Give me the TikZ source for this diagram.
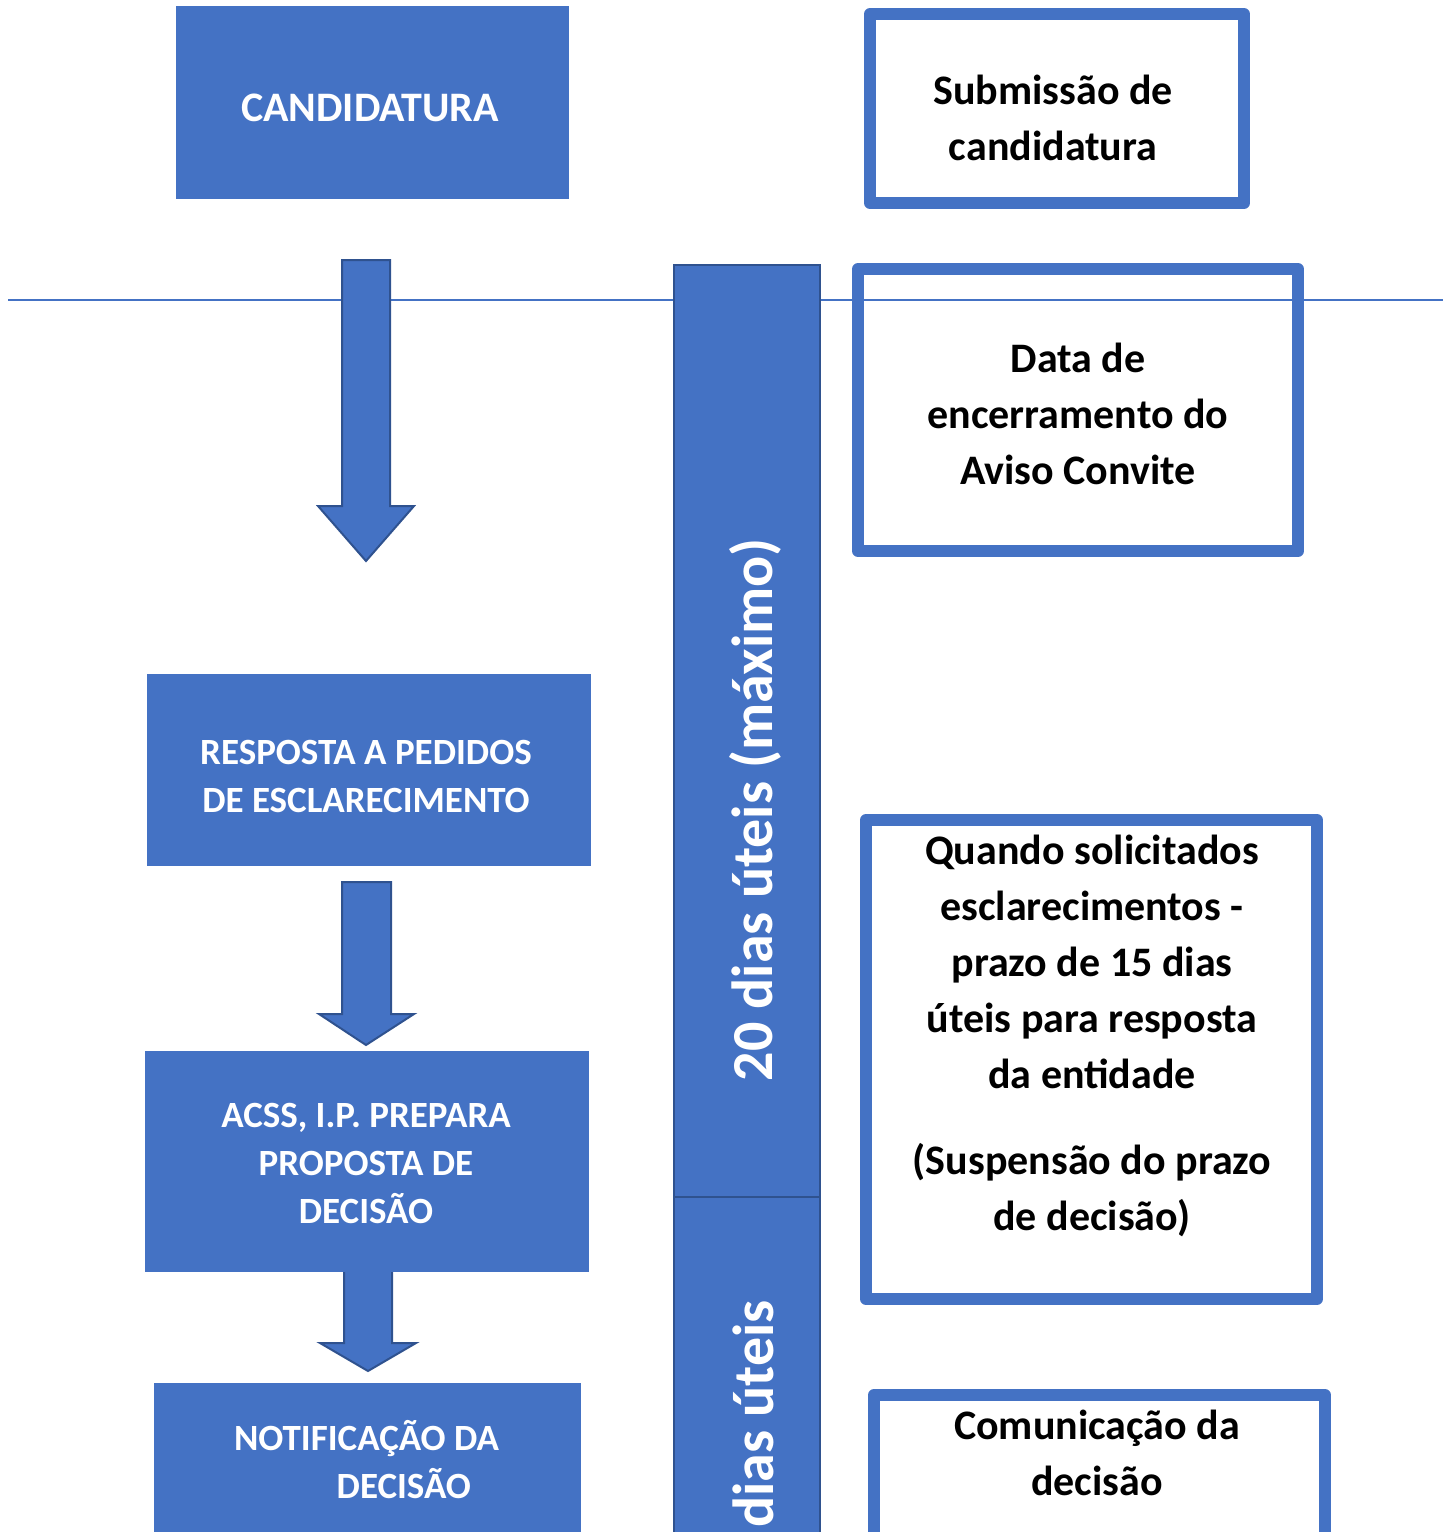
\documentclass[tikz,border=0pt]{standalone}
\usepackage{fontspec}
\setmainfont{Carlito}
\usepackage{tikz}
\usetikzlibrary{positioning}

\definecolor{boxblue}{RGB}{68,114,196}
\definecolor{edgeblue}{RGB}{47,82,143}

\tikzset{
  fillbox/.style={fill=boxblue, draw=boxblue, line width=0.75},
  framebox/.style={draw=boxblue, line width=9, line join=round},
  barbox/.style={fill=boxblue, draw=edgeblue, line width=1.5},
  downarrow/.style={fill=boxblue, draw=edgeblue, line width=1.5, line join=miter},
  whitetext/.style={text=white, font=\bfseries\fontsize{27.75}{36}\selectfont, align=center, inner sep=0},
  blacktext/.style={text=black, font=\bfseries\fontsize{31.5}{42}\selectfont, align=center, inner sep=0},
  bartext/.style={text=white, font=\bfseries\fontsize{43.5}{52}\selectfont, rotate=90, inner sep=0}
}

\begin{document}
\begin{tikzpicture}[x=0.75pt,y=0.75pt,yscale=-1,xscale=1]
\useasboundingbox (0,0) rectangle (1452,1532);

%Straight Lines
\draw [color=boxblue, line width=1]  (8,300) -- (1443,300) ;

%Shape: Rectangle
\draw [fillbox] (176,6) -- (568,6) -- (568,198) -- (176,198) -- cycle ;
%Shape: Rectangle
\draw [framebox] (870,14) -- (1244,14) -- (1244,203) -- (870,203) -- cycle ;

%Shape: Down Arrow
\draw [downarrow] (342,260) -- (390,260) -- (390,506) -- (414,506) -- (366,561) -- (318,506) -- (342,506) -- cycle ;

%Shape: Rectangle
\draw [barbox] (674,265) -- (820,265) -- (820,1197) -- (674,1197) -- cycle ;
%Shape: Rectangle
\draw [barbox] (674,1197) -- (820,1197) -- (820,1545) -- (674,1545) -- cycle ;

%Shape: Rectangle
\draw [framebox] (858,269) -- (1298,269) -- (1298,551) -- (858,551) -- cycle ;

%Shape: Rectangle
\draw [fillbox] (147,674) -- (590,674) -- (590,865) -- (147,865) -- cycle ;

%Shape: Down Arrow
\draw [downarrow] (342,882) -- (391,882) -- (391,1014) -- (414,1014) -- (366,1045) -- (319,1014) -- (342,1014) -- cycle ;

%Shape: Down Arrow
\draw [downarrow] (344,1262) -- (392,1262) -- (392,1343) -- (416,1343) -- (368,1371) -- (320,1343) -- (344,1343) -- cycle ;

%Shape: Rectangle
\draw [fillbox] (145,1051) -- (588,1051) -- (588,1271) -- (145,1271) -- cycle ;

%Shape: Rectangle
\draw [fillbox] (154,1383) -- (580,1383) -- (580,1545) -- (154,1545) -- cycle ;

%Shape: Rectangle
\draw [framebox] (866,820) -- (1317,820) -- (1317,1299) -- (866,1299) -- cycle ;
%Shape: Rectangle
\draw [framebox] (874,1395) -- (1325,1395) -- (1325,1545) -- (874,1545) -- cycle ;

% Text Node
\node [whitetext, font=\bfseries\fontsize{31.5}{38}\selectfont] (cand) at (370,107.5) {CANDIDATURA};
% Text Node
\node [blacktext] (subm) at (1053,118) {Submissão de\\candidatura};
% Text Node
\node [blacktext] (encerr) at (1078,414) {Data de\\encerramento do\\Aviso Convite};
% Text Node
\node [bartext, anchor=base] (prazo) at (772,810) {20 dias úteis (máximo)};
% Text Node
\node [bartext, anchor=base east] (prazob) at (773,1300) {dias úteis};
% Text Node
\node [whitetext] (resp) at (366,776) {RESPOSTA A PEDIDOS\\DE ESCLARECIMENTO};
% Text Node
\node [whitetext] (acss) at (366,1163) {ACSS, I.P. PREPARA\\PROPOSTA DE\\DECISÃO};
% Text Node
\node [whitetext, align=left] (notif) at (366.5,1460) {NOTIFICAÇÃO DA\\\hspace*{77pt}DECISÃO};
% Text Node
\node [blacktext] (quando) at (1092,1036) {Quando solicitados\\esclarecimentos -\\prazo de 15 dias\\úteis para resposta\\da entidade\\[23pt](Suspensão do prazo\\de decisão)};
% Text Node
\node [blacktext] (comun) at (1097,1453) {Comunicação da\\decisão};

\end{tikzpicture}
\end{document}
